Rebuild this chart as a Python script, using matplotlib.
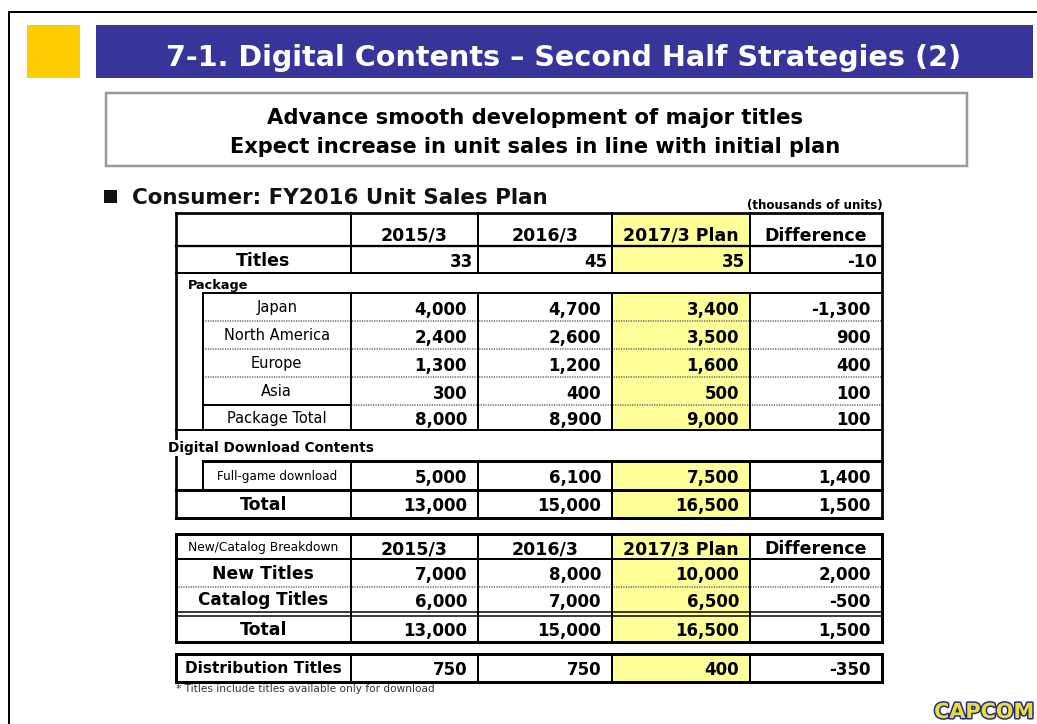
import matplotlib
matplotlib.use("Agg")
import matplotlib.pyplot as plt
from matplotlib.patches import Rectangle
import matplotlib.patheffects as pe

# ---------------- data ----------------
title = "7-1. Digital Contents \u2013 Second Half Strategies (2)"
subtitle_lines = ["Advance smooth development of major titles",
                  "Expect increase in unit sales in line with initial plan"]
section = "Consumer: FY2016 Unit Sales Plan"
unit_note = "(thousands of units)"
columns = ["2015/3", "2016/3", "2017/3 Plan", "Difference"]
titles = [33, 45, 35, -10]
regions = ["Japan", "North America", "Europe", "Asia", "Package Total"]
japan = [4000, 4700, 3400, -1300]
north_america = [2400, 2600, 3500, 900]
europe = [1300, 1200, 1600, 400]
asia = [300, 400, 500, 100]
package_total = [8000, 8900, 9000, 100]
full_game = [5000, 6100, 7500, 1400]
total = [13000, 15000, 16500, 1500]
breakdown_header = "New/Catalog Breakdown"
new_titles = [7000, 8000, 10000, 2000]
catalog_titles = [6000, 7000, 6500, -500]
distribution_titles = [750, 750, 400, -350]
footnote = "* Titles include titles available only for download"

# ---------------- layout / style ----------------
W, H = 1037, 724
BLUE = "#37359A"
GOLD = "#FFCC00"
YELLOW = "#FFFF99"
FONT = "DejaVu Sans"

fig = plt.figure(figsize=(W / 100, H / 100), dpi=100)
ax = fig.add_axes([0, 0, 1, 1])
ax.set_xlim(0, W)
ax.set_ylim(H, 0)
ax.axis("off")
renderer = fig.canvas.get_renderer()

def px(v):
    return v * 0.72  # pixels -> points at 100 dpi

def hline(y, x0, x1, w=2.0, ls="-", color="black"):
    ax.plot([x0, x1], [y, y], color=color, lw=px(w), ls=ls,
            solid_capstyle="projecting")

def vline(x, y0, y1, w=2.0, color="black"):
    ax.plot([x, x], [y0, y1], color=color, lw=px(w),
            solid_capstyle="projecting")

def dotted(y, x0, x1):
    ax.plot([x0, x1], [y, y], color="#666666", lw=1.1, ls=(0, (0.8, 0.8)))

def fit(t, width):
    w = t.get_window_extent(renderer).width
    t.set_fontsize(t.get_fontsize() * width / w)
    return t

def fmt(v):
    return f"{v:,}"

# ---------------- page frame & header ----------------
hline(12, 9, W, 2)
vline(9, 12, H, 2)
ax.add_patch(Rectangle((27, 25), 53, 53, color=GOLD, lw=0))
ax.add_patch(Rectangle((96, 25), 937, 53, color=BLUE, lw=0))
t = ax.text(564, 66, title, color="white", fontweight="bold", family=FONT,
            fontsize=20, ha="center", va="baseline")
fit(t, 796)

ax.add_patch(Rectangle((105.5, 92.5), 861, 73, facecolor="white",
                       edgecolor="#999999", lw=px(2.5)))
t = ax.text(535, 124, subtitle_lines[0], fontweight="bold", family=FONT,
            fontsize=14, ha="center", va="baseline")
fit(t, 539)
t = ax.text(535, 153, subtitle_lines[1], fontweight="bold", family=FONT,
            fontsize=14, ha="center", va="baseline")
fit(t, 614)

ax.add_patch(Rectangle((104, 190), 13, 13, color="#111111", lw=0))
t = ax.text(131.5, 203.5, section, fontweight="bold", family=FONT,
            fontsize=13, ha="left", va="baseline", color="#111111")
fit(t, 414)
t = ax.text(815, 208.5, unit_note, fontweight="bold", family=FONT,
            fontsize=8, ha="center", va="baseline")
fit(t, 136)

# ---------------- table geometry ----------------
XL, XI = 175.5, 202.5
XC = [351, 478, 612, 750, 882]          # column edges after the label column
XR = 882
LABEL_C = (XL + XC[0]) / 2
SUB_C = (XI + XC[0]) / 2

def val_text(y0, y1, vals, pad=11, size=12):
    cy = (y0 + y1) / 2
    base = cy + 0.73 * size / 0.72 / 2 + 1.5
    for i, v in enumerate(vals):
        ax.text(XC[i + 1] - pad, base, fmt(v), fontweight="bold", family=FONT,
                fontsize=size, ha="right", va="baseline")

def label_text(y0, y1, s, xc, size, bold=True, ha="center"):
    cy = (y0 + y1) / 2
    base = cy + 0.73 * size / 0.72 / 2
    ax.text(xc, base, s, fontweight="bold" if bold else "normal", family=FONT,
            fontsize=size, ha=ha, va="baseline")

def header_text(y0, y1):
    base = y1 - 4.5
    for i, c in enumerate(columns):
        ax.text((XC[i] + XC[i + 1]) / 2, base, c, fontweight="bold",
                family=FONT, fontsize=12.5, ha="center", va="baseline")

def yellow(y0, y1):
    ax.add_patch(Rectangle((XC[2], y0), XC[3] - XC[2], y1 - y0,
                           color=YELLOW, lw=0, zorder=0))

# ---------------- table 1 ----------------
R = [213, 245.5, 273, 293, 321, 349, 377, 405, 430, 461, 489.5, 518]
yellow(R[0], R[2])
yellow(R[3], R[8])
yellow(R[9], R[11])

hline(R[0], XL, XR, 2.7)
hline(R[1], XL, XR, 2.3)
hline(R[2], XL, XR, 2.0)
hline(R[3], XI, XR, 2.0)
for y in R[4:7]:
    dotted(y, XI, XR)
hline(R[7], XI, XC[0], 2.0)
dotted(R[7], XC[0], XR)
hline(R[8], XL, XR, 2.0)
hline(R[9], XI, XR, 3.0)
hline(R[10], XL, XR, 3.0)
hline(R[11], XL, XR, 3.0)
vline(XL, R[0], R[11], 2.7)
vline(XR, R[0], R[11], 2.7)
for x in XC[:-1]:
    vline(x, R[0], R[2], 2.0)
    vline(x, R[3], R[8], 2.0)
    vline(x, R[9], R[11], 2.0)
vline(XI, R[3], R[8], 2.0)
vline(XI, R[9], R[10], 2.0)

header_text(R[0], R[1])
label_text(R[1], R[2], "Titles", LABEL_C, 12.5)
val_text(R[1], R[2], titles, pad=5)
ax.text(188, 289.5, "Package", fontweight="bold", family=FONT, fontsize=9.3,
        ha="left", va="baseline")
for k, vals in enumerate([japan, north_america, europe, asia, package_total]):
    label_text(R[3 + k], R[4 + k], regions[k], SUB_C, 10.5, bold=False)
    val_text(R[3 + k], R[4 + k], vals)
ax.text(168, 452, "Digital Download Contents", fontweight="bold", family=FONT,
        fontsize=9.8, ha="left", va="baseline", zorder=5,
        bbox=dict(facecolor="white", edgecolor="none", pad=0.5))
label_text(R[9], R[10], "Full-game download", SUB_C, 8.6, bold=False)
val_text(R[9], R[10], full_game)
label_text(R[10], R[11], "Total", LABEL_C, 12.5)
val_text(R[10], R[11], total)

# ---------------- table 2 ----------------
S = [533.5, 559, 586.5, 611.5, 615.5, 642]
yellow(S[0], S[5])
hline(S[0], XL, XR, 3.0)
hline(S[1], XL, XR, 2.0)
dotted(S[2], XL, XR)
hline(S[3], XL, XR, 1.5)
hline(S[4], XL, XR, 1.5)
hline(S[5], XL, XR, 3.0)
vline(XL, S[0], S[5], 3.0)
vline(XR, S[0], S[5], 3.0)
for x in XC[:-1]:
    vline(x, S[0], S[5], 2.0)
label_text(S[0], S[1], breakdown_header, LABEL_C, 8.8, bold=False)
header_text(S[0], S[1])
label_text(S[1], S[2], "New Titles", LABEL_C, 12.3)
val_text(S[1], S[2], new_titles)
label_text(S[2], S[3], "Catalog Titles", LABEL_C, 12.1)
val_text(S[2], S[3], catalog_titles)
label_text(S[4], S[5], "Total", LABEL_C, 12.5)
val_text(S[4], S[5], total)

# ---------------- table 3 ----------------
T = [653.5, 681.5]
yellow(T[0], T[1])
hline(T[0], XL, XR, 3.0)
hline(T[1], XL, XR, 3.0)
vline(XL, T[0], T[1], 3.0)
vline(XR, T[0], T[1], 3.0)
for x in XC[:-1]:
    vline(x, T[0], T[1], 2.0)
label_text(T[0], T[1], "Distribution Titles", LABEL_C, 11.1)
val_text(T[0], T[1], distribution_titles)

t = ax.text(176, 692, footnote, family=FONT, fontsize=6.6, color="#333333",
            ha="left", va="baseline")
fit(t, 257)

# ---------------- logo ----------------
t = ax.text(984, 718, "CAPCOM", fontweight="heavy", family=FONT, fontsize=12,
            color="#E6DE3A", ha="center", va="baseline",
            path_effects=[pe.withStroke(linewidth=2.2, foreground="#2B2B80")])
fit(t, 100)

fig.savefig("out.png", dpi=100)
